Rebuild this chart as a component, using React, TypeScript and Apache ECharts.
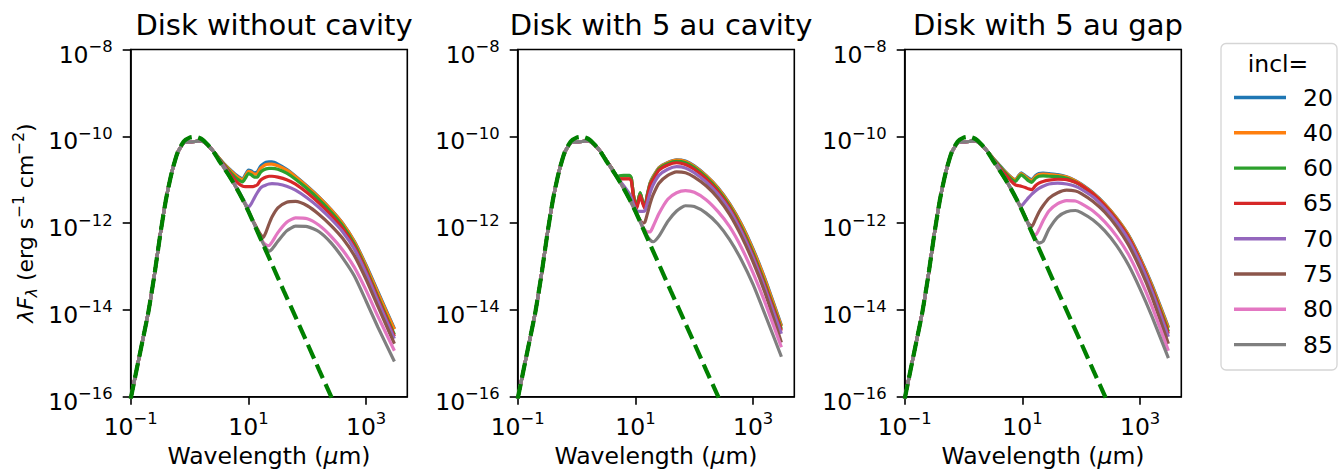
import { useEffect, useRef } from "react";
import * as echarts from "echarts";

// ---- labels -------------------------------------------------------------
const panelTitles = ["Disk without cavity", "Disk with 5 au cavity", "Disk with 5 au gap"];
const inclinations = ["20", "40", "60", "65", "70", "75", "80", "85"];
const inclColors = ["#1f77b4", "#ff7f0e", "#2ca02c", "#d62728", "#9467bd", "#8c564b", "#e377c2", "#7f7f7f"];
const photosphereColor = "#008000";

// axis ticks (log10 of the value)
const xTickExponents = [-1, 1, 3];
const yTickExponents = [-16, -14, -12, -10, -8];
const xMinExp = -1;
const xMaxExp = 3.699; // 5000 um
const yMinExp = -16;
const yMaxExp = -8;

// ---- data: log10(wavelength / um) and log10(lambda F_lambda / erg s^-1 cm^-2) ----

// bare stellar photosphere (dashed)
const photoLogWl = [-1.0, -0.9, -0.8, -0.7, -0.6, -0.5, -0.4, -0.3, -0.2, -0.1, 0.0, 0.1, 0.2, 0.3, 0.4, 0.5, 0.6, 0.7, 0.8, 0.9, 1.0, 1.2, 1.4, 1.6, 1.8, 2.0, 2.2, 2.4, 2.6];
const photoLogFlux = [-16.05, -15.38, -14.72, -14.05, -13.22, -12.28, -11.45, -10.82, -10.36, -10.12, -10.03, -10.01, -10.06, -10.18, -10.34, -10.56, -10.76, -10.97, -11.2, -11.45, -11.73, -12.34, -12.95, -13.56, -14.16, -14.77, -15.38, -15.98, -16.6];

// short-wavelength part common to every disk model
const diskStarLogWl = [-1.0, -0.9, -0.8, -0.7, -0.6, -0.5, -0.4, -0.3, -0.2, -0.1, 0.0, 0.1, 0.2, 0.3, 0.4];
const diskStarLogFlux = [-16.05, -15.38, -14.72, -14.05, -13.22, -12.28, -11.45, -10.82, -10.37, -10.15, -10.13, -10.12, -10.1, -10.19, -10.34];

// Disk without cavity
const noCavityLogWl = [0.5, 0.6, 0.7, 0.8, 0.9, 0.95, 1.0, 1.05, 1.1, 1.15, 1.2, 1.25, 1.3, 1.35, 1.4, 1.5, 1.65, 1.8, 2.0, 2.2, 2.4, 2.6, 2.8, 3.0, 3.2, 3.48];
const noCavity20 = [-10.5, -10.65, -10.78, -10.9, -10.98, -10.88, -10.78, -10.8, -10.84, -10.82, -10.7, -10.64, -10.6, -10.59, -10.59, -10.64, -10.76, -10.92, -11.15, -11.4, -11.68, -12.0, -12.42, -12.97, -13.58, -14.43];
const noCavity40 = [-10.5, -10.66, -10.8, -10.92, -11.0, -10.91, -10.81, -10.83, -10.87, -10.86, -10.75, -10.69, -10.65, -10.64, -10.64, -10.68, -10.78, -10.93, -11.16, -11.41, -11.69, -12.01, -12.43, -12.99, -13.61, -14.45];
const noCavity60 = [-10.51, -10.68, -10.84, -10.97, -11.05, -10.96, -10.86, -10.89, -10.94, -10.94, -10.84, -10.78, -10.75, -10.74, -10.74, -10.76, -10.85, -10.99, -11.21, -11.46, -11.74, -12.06, -12.49, -13.06, -13.7, -14.57];
const noCavity65 = [-10.52, -10.7, -10.88, -11.05, -11.15, -11.16, -11.16, -11.16, -11.15, -11.12, -11.02, -10.97, -10.94, -10.92, -10.92, -10.94, -11.0, -11.1, -11.3, -11.54, -11.81, -12.12, -12.54, -13.1, -13.74, -14.61];
const noCavity70 = [-10.53, -10.72, -10.95, -11.18, -11.42, -11.55, -11.64, -11.55, -11.42, -11.3, -11.2, -11.15, -11.12, -11.1, -11.09, -11.1, -11.15, -11.24, -11.42, -11.64, -11.9, -12.2, -12.6, -13.16, -13.8, -14.66];
const noCavity75 = [-10.55, -10.75, -10.97, -11.2, -11.45, -11.58, -11.72, -11.87, -12.0, -12.13, -12.25, -12.33, -12.2, -12.02, -11.86, -11.65, -11.52, -11.5, -11.6, -11.8, -12.05, -12.35, -12.75, -13.3, -13.92, -14.78];
const noCavity80 = [-10.55, -10.76, -10.97, -11.2, -11.45, -11.58, -11.72, -11.88, -12.03, -12.18, -12.32, -12.44, -12.5, -12.52, -12.44, -12.22, -11.98, -11.88, -11.9, -12.05, -12.3, -12.62, -13.02, -13.55, -14.15, -14.94];
const noCavity85 = [-10.55, -10.76, -10.97, -11.2, -11.45, -11.58, -11.73, -11.88, -12.03, -12.18, -12.33, -12.47, -12.58, -12.65, -12.6, -12.42, -12.18, -12.07, -12.08, -12.2, -12.45, -12.8, -13.22, -13.8, -14.4, -15.19];

// Disk with 5 au cavity
const cavityLogWl = [0.5, 0.6, 0.7, 0.73, 0.8, 0.9, 0.93, 0.97, 1.02, 1.08, 1.12, 1.16, 1.2, 1.25, 1.3, 1.4, 1.55, 1.7, 1.85, 2.0, 2.2, 2.4, 2.6, 2.8, 3.0, 3.2, 3.48];
const cavity20 = [-10.54, -10.74, -10.94, -10.93, -10.92, -10.92, -10.97, -11.38, -11.63, -11.31, -11.5, -11.63, -11.35, -11.07, -10.93, -10.72, -10.6, -10.54, -10.57, -10.68, -10.9, -11.18, -11.55, -12.02, -12.6, -13.28, -14.36];
const cavity40 = [-10.54, -10.74, -10.94, -10.93, -10.92, -10.92, -10.97, -11.38, -11.63, -11.31, -11.5, -11.63, -11.36, -11.08, -10.94, -10.73, -10.61, -10.55, -10.58, -10.69, -10.91, -11.19, -11.56, -12.03, -12.62, -13.3, -14.38];
const cavity60 = [-10.54, -10.74, -10.94, -10.91, -10.9, -10.9, -10.96, -11.38, -11.62, -11.3, -11.49, -11.63, -11.37, -11.1, -10.97, -10.75, -10.63, -10.58, -10.61, -10.72, -10.94, -11.23, -11.61, -12.1, -12.7, -13.39, -14.44];
const cavity65 = [-10.55, -10.75, -10.96, -10.98, -10.98, -10.98, -11.03, -11.42, -11.67, -11.36, -11.53, -11.67, -11.4, -11.12, -11.0, -10.78, -10.66, -10.61, -10.65, -10.76, -10.98, -11.27, -11.65, -12.15, -12.75, -13.44, -14.48];
const cavity70 = [-10.55, -10.75, -10.96, -11.02, -11.14, -11.33, -11.42, -11.58, -11.71, -11.73, -11.73, -11.72, -11.55, -11.3, -11.12, -10.9, -10.76, -10.7, -10.73, -10.84, -11.05, -11.33, -11.7, -12.2, -12.8, -13.5, -14.55];
const cavity75 = [-10.55, -10.76, -10.97, -11.04, -11.2, -11.45, -11.53, -11.64, -11.78, -11.93, -12.0, -11.98, -11.8, -11.55, -11.35, -11.08, -10.9, -10.82, -10.84, -10.94, -11.14, -11.42, -11.8, -12.3, -12.9, -13.6, -14.75];
const cavity80 = [-10.55, -10.76, -10.97, -11.04, -11.2, -11.45, -11.53, -11.64, -11.79, -11.96, -12.07, -12.16, -12.2, -12.2, -12.08, -11.78, -11.45, -11.3, -11.25, -11.29, -11.46, -11.73, -12.08, -12.56, -13.15, -13.82, -14.86];
const cavity85 = [-10.55, -10.76, -10.97, -11.04, -11.2, -11.45, -11.53, -11.64, -11.79, -11.97, -12.09, -12.2, -12.3, -12.39, -12.43, -12.3, -11.96, -11.72, -11.6, -11.62, -11.77, -12.02, -12.38, -12.85, -13.42, -14.1, -15.08];

// Disk with 5 au gap
const gapLogWl = [0.5, 0.6, 0.7, 0.8, 0.88, 0.94, 0.98, 1.05, 1.1, 1.16, 1.22, 1.28, 1.35, 1.45, 1.6, 1.75, 1.9, 2.0, 2.2, 2.4, 2.6, 2.8, 3.0, 3.2, 3.48];
const gap20 = [-10.5, -10.65, -10.8, -10.93, -11.0, -10.9, -10.84, -10.91, -10.96, -11.0, -10.91, -10.86, -10.85, -10.86, -10.88, -10.93, -11.02, -11.1, -11.3, -11.56, -11.88, -12.27, -12.8, -13.42, -14.4];
const gap40 = [-10.5, -10.66, -10.81, -10.94, -11.01, -10.91, -10.86, -10.93, -10.98, -11.02, -10.93, -10.88, -10.87, -10.88, -10.9, -10.94, -11.03, -11.11, -11.31, -11.57, -11.89, -12.28, -12.82, -13.44, -14.42];
const gap60 = [-10.51, -10.67, -10.83, -10.97, -11.04, -10.94, -10.89, -10.96, -11.02, -11.06, -10.97, -10.92, -10.91, -10.92, -10.93, -10.97, -11.06, -11.14, -11.34, -11.6, -11.92, -12.32, -12.87, -13.5, -14.5];
const gap65 = [-10.52, -10.7, -10.86, -11.02, -11.12, -11.14, -11.15, -11.18, -11.21, -11.23, -11.14, -11.08, -11.04, -11.01, -10.99, -11.0, -11.06, -11.13, -11.33, -11.6, -11.93, -12.33, -12.87, -13.52, -14.55];
const gap70 = [-10.53, -10.72, -10.95, -11.18, -11.38, -11.55, -11.6, -11.5, -11.42, -11.33, -11.26, -11.2, -11.15, -11.1, -11.08, -11.1, -11.15, -11.22, -11.4, -11.66, -11.98, -12.38, -12.92, -13.57, -14.62];
const gap75 = [-10.55, -10.76, -10.97, -11.2, -11.4, -11.56, -11.66, -11.86, -12.0, -12.08, -11.92, -11.75, -11.6, -11.43, -11.3, -11.24, -11.26, -11.32, -11.5, -11.75, -12.08, -12.5, -13.05, -13.7, -14.78];
const gap80 = [-10.55, -10.76, -10.97, -11.2, -11.4, -11.56, -11.67, -11.87, -12.03, -12.2, -12.28, -12.15, -11.95, -11.72, -11.55, -11.48, -11.49, -11.55, -11.72, -11.97, -12.3, -12.72, -13.28, -13.92, -14.94];
const gap85 = [-10.55, -10.76, -10.97, -11.2, -11.4, -11.56, -11.67, -11.87, -12.03, -12.2, -12.36, -12.46, -12.42, -12.14, -11.86, -11.74, -11.71, -11.76, -11.93, -12.18, -12.52, -12.96, -13.52, -14.15, -15.11];

const panels = [
  { logWl: noCavityLogWl, fluxes: [noCavity20, noCavity40, noCavity60, noCavity65, noCavity70, noCavity75, noCavity80, noCavity85] },
  { logWl: cavityLogWl, fluxes: [cavity20, cavity40, cavity60, cavity65, cavity70, cavity75, cavity80, cavity85] },
  { logWl: gapLogWl, fluxes: [gap20, gap40, gap60, gap65, gap70, gap75, gap80, gap85] },
];

// ---- layout -------------------------------------------------------------
const FONT = "DejaVu Sans";
const FS = 23.5; // tick labels, x-axis name, legend
const FS_SMALL = 16.4; // tick-label exponents
const FS_YNAME = 22;
const FS_YNAME_SMALL = 15.4;
const FS_TITLE = 29;
const gridLefts = [130.7, 517.7, 904.7];
const gridTop = 49.5;
const gridWidth = 276.6;
const gridHeight = 347.2;

const MINUS = "\u2212";
const powerLabel = (v: number) => `{b|10}{s|${v < 0 ? MINUS : ""}${Math.abs(Math.round(v))}}`;

const tickRich = {
  b: { fontSize: FS, fontFamily: FONT, color: "#000", lineHeight: 28, verticalAlign: "bottom" },
  s: { fontSize: FS_SMALL, fontFamily: FONT, color: "#000", lineHeight: 14, verticalAlign: "top" },
};

const xNameRich = {
  n: { fontSize: FS, fontFamily: FONT, color: "#000", lineHeight: 26 },
  i: { fontSize: FS, fontFamily: FONT, color: "#000", lineHeight: 26, fontStyle: "italic" },
};

const yNameRich = {
  n: { fontSize: FS_YNAME, fontFamily: FONT, color: "#000", lineHeight: 28 },
  i: { fontSize: FS_YNAME, fontFamily: FONT, color: "#000", lineHeight: 28, fontStyle: "italic" },
  sub: { fontSize: FS_YNAME_SMALL, fontFamily: FONT, color: "#000", lineHeight: 14, verticalAlign: "bottom", fontStyle: "italic" },
  sup: { fontSize: FS_YNAME_SMALL, fontFamily: FONT, color: "#000", lineHeight: 14, verticalAlign: "top" },
};

const toPairs = (xs: number[], ys: number[]) => xs.map((x, k) => [x, ys[k]]);

function buildOption() {
  const grid = gridLefts.map((left) => ({
    left,
    top: gridTop,
    width: gridWidth,
    height: gridHeight,
    containLabel: false,
    outerBoundsMode: "none",
    show: true,
    borderColor: "#000",
    borderWidth: 1.6,
    backgroundColor: "transparent",
  }));

  const axisLine = { show: true, onZero: false, lineStyle: { color: "#000", width: 1.6 } };
  const tickLine = { color: "#000", width: 1.6 };

  const xAxis = gridLefts.map((_, i) => ({
    type: "value",
    gridIndex: i,
    min: xMinExp,
    max: xMaxExp,
    axisLine,
    axisTick: { show: true, customValues: xTickExponents, length: 8, lineStyle: tickLine },
    axisLabel: { customValues: xTickExponents, formatter: powerLabel, margin: 14, rich: tickRich },
    splitLine: { show: false },
    name: "Wavelength ({i|\u03bc}{n|m)}",
    nameLocation: "middle",
    nameGap: 46,
    nameMoveOverlap: false,
    nameTextStyle: { fontSize: FS, fontFamily: FONT, color: "#000", lineHeight: 26, rich: xNameRich },
  }));

  const yAxis = gridLefts.map((_, i) => ({
    type: "value",
    gridIndex: i,
    min: yMinExp,
    max: yMaxExp,
    axisLine,
    axisTick: { show: true, customValues: yTickExponents, length: 8, lineStyle: tickLine },
    axisLabel: { customValues: yTickExponents, formatter: powerLabel, margin: 18, padding: [6, 0, 0, 0], rich: tickRich },
    splitLine: { show: false },
    name: i === 0 ? "{i|\u03bbF}{sub|\u03bb}{n| (erg s}{sup|" + MINUS + "1}{n| cm}{sup|" + MINUS + "2}{n|)}" : "",
    nameLocation: "middle",
    nameGap: 91,
    nameMoveOverlap: false,
    nameTextStyle: { fontSize: FS_YNAME, fontFamily: FONT, color: "#000", lineHeight: 28, rich: yNameRich },
  }));

  const series: any[] = [];
  panels.forEach((panel, pi) => {
    panel.fluxes.forEach((vals, si) => {
      series.push({
        type: "line",
        name: inclinations[si],
        xAxisIndex: pi,
        yAxisIndex: pi,
        data: [...toPairs(diskStarLogWl, diskStarLogFlux), ...toPairs(panel.logWl, vals)],
        symbol: "none",
        showSymbol: false,
        smooth: 0.2,
        clip: true,
        color: inclColors[si],
        lineStyle: { color: inclColors[si], width: 3.2 },
        itemStyle: { color: inclColors[si] },
        z: 2 + si,
      });
    });
    series.push({
      type: "line",
      name: "Photosphere",
      xAxisIndex: pi,
      yAxisIndex: pi,
      data: toPairs(photoLogWl, photoLogFlux),
      symbol: "none",
      showSymbol: false,
      smooth: 0.2,
      clip: true,
      lineStyle: { color: photosphereColor, width: 4.2, type: [15, 6.5] },
      itemStyle: { color: photosphereColor },
      z: 20,
    });
  });

  return {
    animation: false,
    backgroundColor: "#fff",
    textStyle: { fontFamily: FONT },
    title: panelTitles.map((text, i) => ({
      text,
      left: gridLefts[i] + gridWidth / 2,
      top: 3,
      textAlign: "center",
      textStyle: { fontSize: FS_TITLE, fontWeight: "normal", fontFamily: FONT, color: "#000", lineHeight: 34 },
    })),
    grid,
    xAxis,
    yAxis,
    legend: {
      data: inclinations,
      orient: "vertical",
      left: 1229,
      top: 78.5,
      icon: "rect",
      itemWidth: 52,
      itemHeight: 3.4,
      itemGap: 7.3,
      selectedMode: false,
      textStyle: { fontSize: FS, fontFamily: FONT, color: "#000", lineHeight: 28, padding: [0, 0, 0, 12] },
    },
    graphic: [
      {
        type: "rect",
        z: -1,
        shape: { x: 1221, y: 43.5, width: 116, height: 326.5, r: 5 },
        style: { fill: "#fff", stroke: "#d5d5d5", lineWidth: 1.3 },
      },
      {
        type: "text",
        x: 1278,
        y: 64,
        style: { text: "incl=", fontSize: FS, fontFamily: FONT, fill: "#000", align: "center", verticalAlign: "middle" },
      },
    ],
    series,
  };
}

export default function App() {
  const ref = useRef<HTMLDivElement>(null);
  useEffect(() => {
    if (!ref.current) return;
    const chart = echarts.init(ref.current, undefined, { renderer: "svg" });
    chart.setOption(buildOption() as any);
    return () => chart.dispose();
  }, []);
  return <div ref={ref} style={{ position: "fixed", left: 0, top: 0, width: 1338, height: 470 }} />;
}
